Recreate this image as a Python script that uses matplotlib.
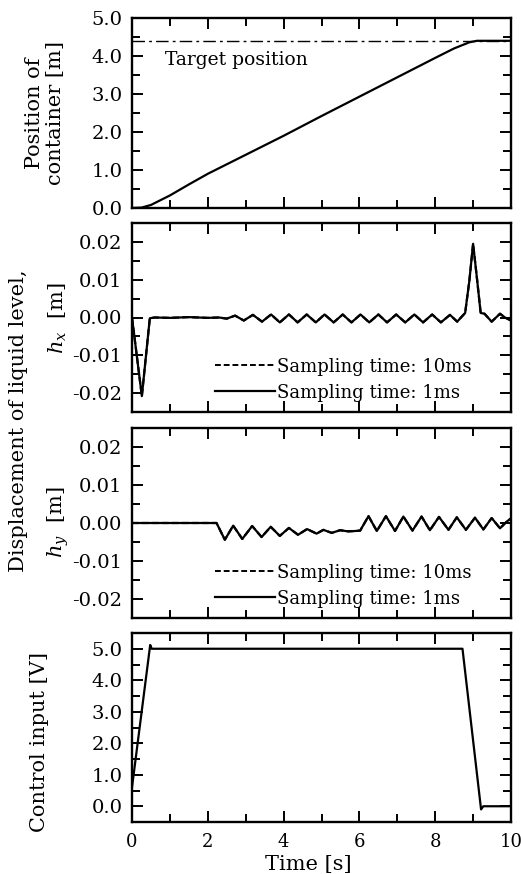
import matplotlib
matplotlib.use("Agg")
import matplotlib.pyplot as plt
from matplotlib.ticker import MultipleLocator, FormatStrFormatter
from matplotlib.lines import Line2D

plt.rcParams['font.family'] = ['DejaVu Serif']
plt.rcParams['mathtext.fontset'] = 'dejavuserif'

# ---- data ----
pos_t = [0.0, 0.25, 0.5, 1.0, 1.5, 2.0, 3.0, 4.0, 5.0, 6.0, 7.0, 8.0, 8.5, 8.9, 9.1, 10.0]
pos_v = [0.0, 0.01, 0.08, 0.33, 0.62, 0.90, 1.40, 1.90, 2.42, 2.93, 3.44, 3.95, 4.20, 4.36, 4.40, 4.40]
target_pos = 4.4

hx_t = [0.0, 0.26, 0.47, 0.6, 1.0, 1.5, 2.0, 2.3, 2.5, 2.72, 2.95, 3.19, 3.43, 3.67, 3.90, 4.14,
        4.37, 4.61, 4.85, 5.08, 5.32, 5.56, 5.79, 6.03, 6.26, 6.50, 6.73, 6.97, 7.21, 7.45,
        7.68, 7.92, 8.15, 8.39, 8.58, 8.79, 8.90, 9.00, 9.11, 9.20, 9.30, 9.49, 9.71, 9.84, 10.0]
hx_v = [0.0, -0.0208, -0.0002, 0.0, -0.0001, 0.0001, -0.0001, 0.0, -0.0003, 0.0005, -0.0008,
        0.0007, -0.0011, 0.0008, -0.0013, 0.0008, -0.0013, 0.0008, -0.0013, 0.0008, -0.0013,
        0.0008, -0.0013, 0.0008, -0.0013, 0.0008, -0.0013, 0.0008, -0.0013, 0.0008, -0.0013,
        0.0008, -0.0013, 0.0007, -0.0011, 0.0012, 0.0096, 0.0195, 0.0096, 0.0012, 0.0010,
        -0.0011, 0.0010, 0.0, -0.0008]

hy_t = [0.0, 2.23, 2.45, 2.67, 2.91, 3.17, 3.42, 3.66, 3.90, 4.14, 4.38, 4.62, 4.87, 5.05,
        5.27, 5.49, 5.70, 5.90, 6.02, 6.24, 6.46, 6.70, 6.94, 7.16, 7.40, 7.64, 7.86, 8.10,
        8.35, 8.57, 8.81, 9.05, 9.27, 9.49, 9.71, 9.89, 10.0]
hy_v = [0.0, 0.0, -0.0044, -0.0007, -0.0042, -0.0008, -0.0037, -0.0010, -0.0034, -0.0013,
        -0.0031, -0.0016, -0.0028, -0.0018, -0.0026, -0.0019, -0.0022, -0.0021, -0.0020,
        0.0018, -0.0021, 0.0018, -0.0021, 0.0017, -0.0020, 0.0017, -0.0019, 0.0016, -0.0018,
        0.0015, -0.0018, 0.0014, -0.0017, 0.0013, -0.0014, 0.0004, 0.0012]

u_t = [0.0, 0.48, 0.52, 8.72, 9.21, 9.27, 10.0]
u_v = [0.6, 5.12, 5.0, 5.0, -0.1, 0.0, 0.0]

labels_series = ['Sampling time: 10ms', 'Sampling time: 1ms']

# ---- figure ----
W, H = 521, 874
fig = plt.figure(figsize=(W / 100, H / 100), dpi=100)

def ax_at(top, bottom, left=132, right=511):
    return fig.add_axes([left / W, 1 - bottom / H, (right - left) / W, (bottom - top) / H])

ax1 = ax_at(18, 208)
ax2 = ax_at(223, 412)
ax3 = ax_at(428, 618)
ax4 = ax_at(633, 822)
axes = [ax1, ax2, ax3, ax4]

TICK_FS = 14
LAB_FS = 15
LW = 1.6
DASH = (0, (3, 1.5))

ax1.plot(pos_t, pos_v, color='black', lw=LW, solid_joinstyle='round')
ax1.axhline(target_pos, color='black', lw=1.0, ls=(0, (9, 3, 2, 3)))
ax1.text(0.88, 3.9, 'Target position', fontsize=13.5, va='center', ha='left')
ax1.set_ylim(0, 5.0)
ax1.yaxis.set_major_locator(MultipleLocator(1.0))
ax1.yaxis.set_minor_locator(MultipleLocator(0.5))
ax1.yaxis.set_major_formatter(FormatStrFormatter('%.1f'))

for ax, t, v in [(ax2, hx_t, hx_v), (ax3, hy_t, hy_v)]:
    ax.plot(t, v, color='black', lw=LW, ls=DASH)
    ax.plot(t, v, color='black', lw=LW, solid_joinstyle='round')
    ax.set_ylim(-0.025, 0.025)
    ax.yaxis.set_major_locator(MultipleLocator(0.01))
    ax.yaxis.set_minor_locator(MultipleLocator(0.005))
    ax.yaxis.set_major_formatter(FormatStrFormatter('%.2f'))
    handles = [Line2D([], [], color='black', lw=1.4, ls=DASH),
               Line2D([], [], color='black', lw=1.6)]
    ax.legend(handles, labels_series, loc='lower left', bbox_to_anchor=(0.215, 0.045),
              frameon=False, fontsize=13, handlelength=3.3, handletextpad=0.1,
              labelspacing=0.45, borderpad=0.1, borderaxespad=0.0)

ax4.plot(u_t, u_v, color='black', lw=LW)
ax4.set_ylim(-0.5, 5.5)
ax4.yaxis.set_major_locator(MultipleLocator(1.0))
ax4.yaxis.set_minor_locator(MultipleLocator(0.5))
ax4.yaxis.set_major_formatter(FormatStrFormatter('%.1f'))
ax4.set_xlabel('Time [s]', fontsize=LAB_FS)
ax4.xaxis.set_label_coords(0.464, -0.225)
ax4.xaxis.label.set_va('center')

for ax in axes:
    ax.set_xlim(0, 10)
    ax.xaxis.set_major_locator(MultipleLocator(2))
    ax.xaxis.set_minor_locator(MultipleLocator(1))
    ax.tick_params(which='both', direction='in', top=True, right=True, width=1.4)
    ax.tick_params(which='major', length=8, labelsize=TICK_FS)
    ax.tick_params(axis='y', which='major', pad=7)
    ax.tick_params(axis='x', which='major', pad=8, labelsize=13)
    ax.tick_params(which='minor', length=5.5)
    for s in ax.spines.values():
        s.set_linewidth(1.7)
    if ax is not ax4:
        ax.tick_params(labelbottom=False)

# y labels
fig.text(35 / W, 1 - 113 / H, 'Position of', rotation=90, ha='center', va='center',
         fontsize=LAB_FS)
fig.text(56 / W, 1 - 113 / H, 'container [m]', rotation=90, ha='center', va='center',
         fontsize=LAB_FS)
fig.text(19 / W, 1 - 421 / H, 'Displacement of liquid level,', rotation=90, ha='center',
         va='center', fontsize=LAB_FS)
fig.text(58 / W, 1 - 318 / H, r'$h_x$  [m]', rotation=90, ha='center', va='center',
         fontsize=LAB_FS)
fig.text(58 / W, 1 - 522 / H, r'$h_y$  [m]', rotation=90, ha='center', va='center',
         fontsize=LAB_FS)
fig.text(40 / W, 1 - 742 / H, 'Control input [V]', rotation=90, ha='center', va='center',
         fontsize=LAB_FS)

fig.savefig('out.png', dpi=100)
